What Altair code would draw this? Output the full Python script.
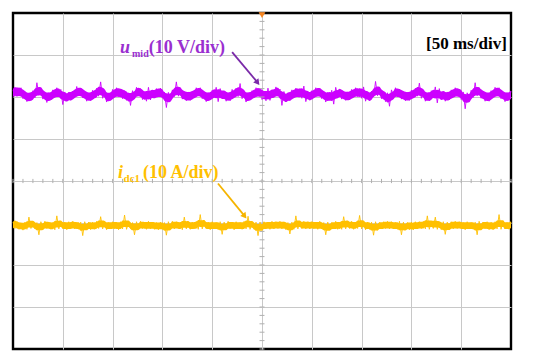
import altair as alt
import pandas as pd

# Oscilloscope: 50 ms/div (10 div), 10 units/div (8 div), one sample every 2 ms
T_STEP_MS = 2

# u_mid trace (screen units, 10 per division)
u_mid = [
    21.6, 20.2, 22.3, 20.3, 22.2, 19.6, 21.0, 18.9, 20.9, 19.2,
    21.5, 19.8, 23.4, 20.4, 22.0, 19.5, 21.1, 18.7, 21.0, 19.4,
    21.7, 20.1, 22.2, 20.0, 21.8, 18.2, 21.2, 19.1, 21.1, 19.2,
    21.4, 20.0, 22.5, 20.3, 22.1, 19.8, 21.4, 19.0, 20.9, 19.1,
    21.6, 19.9, 22.1, 20.2, 23.6, 19.7, 21.2, 18.8, 20.8, 19.2,
    21.8, 20.1, 22.2, 20.1, 21.9, 19.6, 21.5, 19.2, 21.0, 18.0,
    21.5, 20.0, 22.3, 20.4, 22.0, 19.4, 21.1, 19.0, 22.3, 19.3,
    21.6, 19.8, 22.0, 20.2, 22.1, 19.7, 21.2, 17.5, 21.1, 19.2,
    21.7, 20.1, 23.6, 20.2, 21.9, 19.5, 21.2, 19.1, 21.2, 19.2,
    21.4, 19.9, 22.2, 20.3, 22.2, 19.6, 21.0, 18.9, 21.0, 19.3,
    21.6, 20.1, 22.3, 18.9, 22.0, 19.8, 21.4, 19.0, 20.9, 19.1,
    21.8, 20.0, 22.1, 20.1, 23.2, 19.6, 21.1, 18.8, 21.0, 19.4,
    21.5, 19.9, 22.2, 20.3, 22.1, 19.4, 21.2, 19.1, 22.1, 19.2,
    21.6, 20.2, 22.4, 20.2, 21.9, 18.0, 21.3, 19.0, 20.9, 19.1,
    21.7, 20.0, 22.1, 20.0, 22.0, 19.7, 22.6, 18.9, 21.0, 19.3,
    21.5, 19.8, 22.2, 20.4, 22.1, 19.6, 21.1, 18.8, 21.1, 19.2,
    21.6, 18.3, 22.3, 20.2, 21.9, 19.5, 21.2, 19.2, 21.2, 19.3,
    21.8, 20.1, 22.2, 20.1, 22.0, 19.7, 22.4, 19.0, 20.9, 19.1,
    21.4, 20.0, 23.7, 20.3, 22.1, 19.6, 21.1, 18.9, 21.0, 17.8,
    21.7, 20.1, 22.2, 20.0, 21.9, 19.5, 21.2, 19.1, 21.1, 19.2,
    21.6, 19.9, 22.1, 20.2, 23.3, 19.7, 21.4, 19.0, 20.9, 19.1,
    21.5, 20.0, 22.4, 18.6, 22.0, 19.5, 21.1, 19.0, 21.2, 19.3,
    21.7, 20.1, 22.2, 20.2, 21.9, 19.4, 21.2, 17.2, 21.0, 19.2,
    21.6, 19.9, 23.4, 20.3, 22.0, 19.7, 21.3, 19.0, 20.9, 19.0,
    21.5, 20.0, 22.3, 20.2, 22.2, 19.6, 21.1, 18.9, 21.0, 19.3,
    21.4,
]

# i_dc1 trace (screen units)
i_dc1 = [
    -9.8, -11.3, -9.6, -11.5, -10.0, -11.7, -9.8, -11.5, -8.6, -11.3,
    -9.7, -11.4, -9.9, -12.8, -9.7, -11.4, -9.6, -11.3, -9.8, -11.5,
    -9.9, -11.6, -8.3, -11.4, -9.7, -11.3, -9.8, -11.6, -9.7, -11.4,
    -9.6, -11.4, -9.9, -11.5, -9.8, -13.0, -9.7, -11.3, -9.8, -11.6,
    -9.8, -11.5, -9.6, -11.3, -8.5, -11.4, -9.7, -11.6, -9.9, -11.4,
    -9.7, -11.3, -9.8, -11.6, -9.7, -11.4, -8.1, -11.5, -9.8, -11.3,
    -9.9, -12.8, -9.7, -11.4, -9.6, -11.3, -9.8, -11.5, -9.6, -11.4,
    -9.8, -11.5, -9.9, -11.6, -9.8, -11.5, -9.9, -12.9, -9.7, -11.4,
    -9.6, -11.4, -9.7, -11.3, -9.8, -11.6, -8.6, -11.4, -9.9, -11.5,
    -9.8, -11.3, -9.6, -11.5, -8.0, -11.4, -9.7, -11.3, -9.8, -11.6,
    -9.7, -11.4, -9.9, -11.6, -9.7, -12.7, -9.8, -11.5, -9.6, -11.3,
    -9.8, -11.6, -9.7, -11.4, -9.9, -11.5, -9.6, -11.4, -8.4, -11.5,
    -9.9, -11.5, -9.8, -13.0, -9.8, -11.6, -9.7, -11.3, -9.8, -11.5,
    -9.6, -11.4, -9.7, -11.3, -9.6, -11.4, -9.7, -11.6, -9.9, -12.6,
    -9.8, -11.5, -8.3, -11.4, -9.7, -11.3, -9.6, -11.4, -9.7, -11.4,
    -9.7, -11.3, -9.8, -11.5, -9.6, -11.4, -9.9, -12.8, -9.8, -11.6,
    -9.9, -11.4, -9.6, -11.5, -9.8, -11.5, -8.5, -11.4, -9.6, -11.3,
    -9.6, -11.5, -9.8, -11.3, -8.2, -11.4, -9.7, -11.6, -9.8, -11.5,
    -9.8, -12.9, -9.7, -11.6, -9.9, -11.4, -9.7, -11.3, -9.6, -11.4,
    -9.7, -11.4, -9.9, -11.5, -9.6, -12.8, -9.8, -11.5, -9.9, -11.6,
    -9.8, -11.6, -9.7, -11.4, -9.7, -11.3, -9.6, -11.4, -8.3, -11.5,
    -9.6, -11.3, -8.6, -11.5, -9.8, -11.6, -9.7, -12.7, -9.8, -11.3,
    -9.7, -11.4, -9.6, -11.3, -9.7, -11.4, -9.9, -11.6, -9.7, -11.4,
    -9.9, -11.5, -9.8, -12.8, -9.6, -11.5, -9.8, -11.3, -9.7, -11.6,
    -9.8, -11.6, -9.7, -11.4, -8.0, -11.5, -9.6, -11.4, -9.9, -11.5,
    -9.8,
]

time_ms = [i * T_STEP_MS for i in range(len(u_mid))]

# inner grid lines only (the frame is the view border)
grid_x = [50, 100, 150, 200, 250, 300, 350, 400, 450]
grid_y = [-30, -20, -10, 0, 10, 20, 30]
minor_x = list(range(0, 501, 10))
minor_y = list(range(-40, 41, 2))

PURPLE = "#cc00ff"
PURPLE_TXT = "#9a2fd0"
PURPLE_ARROW = "#7a2aa8"
GOLD = "#ffc000"
GOLD_ARROW = "#f5b400"
FONT = "Liberation Serif"

xs = alt.Scale(domain=[0, 500], nice=False, zero=False)
ys = alt.Scale(domain=[-40, 40], nice=False, zero=False)

df = pd.DataFrame({"t": time_ms, "u": u_mid, "i": i_dc1})

xaxis = alt.Axis(values=grid_x, grid=True, labels=False, ticks=False, domain=False,
                 title=None, gridColor="#c8c8c8", gridWidth=1)
yaxis = alt.Axis(values=grid_y, grid=True, labels=False, ticks=False, domain=False,
                 title=None, gridColor="#c8c8c8", gridWidth=1)


def trace(field, color, band):
    body = alt.Chart(df).transform_window(
        c=f"mean({field})", frame=[-2, 1], sort=[alt.SortField("t")]
    ).transform_calculate(
        hi=f"datum.c + {band}", lo=f"datum.c - {band}"
    ).mark_area(color=color, opacity=1, interpolate="monotone").encode(
        x=alt.X("t:Q", scale=xs, axis=xaxis),
        y=alt.Y("hi:Q", scale=ys, axis=yaxis),
        y2="lo:Q",
    )
    fuzz = alt.Chart(df).mark_line(color=color, strokeWidth=1.0, opacity=0.9).encode(
        x=alt.X("t:Q", scale=xs, axis=xaxis), y=alt.Y(f"{field}:Q", scale=ys, axis=yaxis)
    )
    return [body, fuzz]


mx = alt.Chart(pd.DataFrame({"t": minor_x})).mark_rule(color="#b0b0b0", strokeWidth=1).encode(
    x=alt.X("t:Q", scale=xs, axis=xaxis), y=alt.datum(-0.5), y2=alt.datum(0.5)
)
my = alt.Chart(pd.DataFrame({"v": minor_y})).mark_rule(color="#b0b0b0", strokeWidth=1).encode(
    y=alt.Y("v:Q", scale=ys, axis=yaxis), x=alt.datum(247.5), x2=alt.datum(252.5)
)

trig = alt.Chart(pd.DataFrame({"t": [250], "v": [39.5]})).mark_point(
    shape="triangle-down", filled=True, color="#f5841f", size=45, opacity=1
).encode(x=alt.X("t:Q", scale=xs, axis=xaxis), y=alt.Y("v:Q", scale=ys, axis=yaxis))


def label(t, v, txt, color, size, style="normal"):
    return alt.Chart(pd.DataFrame({"t": [t], "v": [v], "txt": [txt]})).mark_text(
        align="left", baseline="alphabetic", font=FONT, fontWeight="bold",
        fontStyle=style, fontSize=size, color=color
    ).encode(x=alt.X("t:Q", scale=xs, axis=xaxis), y=alt.Y("v:Q", scale=ys, axis=yaxis),
             text="txt:N")


texts = [
    label(107.4, 30.4, "u", PURPLE_TXT, 18, "italic"),
    label(119.5, 29.5, "mid", PURPLE_TXT, 10),
    label(136.3, 30.4, "(10 V/div)", PURPLE_TXT, 18),
    label(414.7, 31.4, "[50 ms/div]", "black", 17),
    label(105.4, 0.7, "i", GOLD, 18, "italic"),
    label(111.0, -0.2, "dc1", GOLD, 11),
    label(130.5, 0.7, "(10 A/div)", GOLD, 18),
]


def arrow(t0, v0, t1, v1, color, angle):
    d = pd.DataFrame({"t0": [t0], "v0": [v0], "t1": [t1], "v1": [v1]})
    line = alt.Chart(d).mark_rule(color=color, strokeWidth=1.8).encode(
        x=alt.X("t0:Q", scale=xs, axis=xaxis), y=alt.Y("v0:Q", scale=ys, axis=yaxis),
        x2="t1:Q", y2="v1:Q"
    )
    head = alt.Chart(d).mark_point(shape="triangle", filled=True, color=color,
                                   size=45, angle=angle, opacity=1).encode(
        x=alt.X("t1:Q", scale=xs, axis=xaxis), y=alt.Y("v1:Q", scale=ys, axis=yaxis)
    )
    return [line, head]


arrows = arrow(220.0, 30.7, 245.0, 23.6, PURPLE_ARROW, 142) + \
    arrow(205.8, -0.6, 232.0, -8.2, GOLD_ARROW, 142)

layers = trace("u", PURPLE, 1.0) + [mx, my] + trace("i", GOLD, 0.8) + [trig] + texts + arrows

chart = alt.layer(*layers).properties(
    width=498, height=336,
    autosize=alt.AutoSizeParams(type="none"),
    padding={"left": 5, "top": 5, "right": 31, "bottom": 4},
    background="white",
).configure_view(stroke="black", strokeWidth=2.4)

chart.save("out.html", embed_options={"renderer": "svg", "actions": False})
